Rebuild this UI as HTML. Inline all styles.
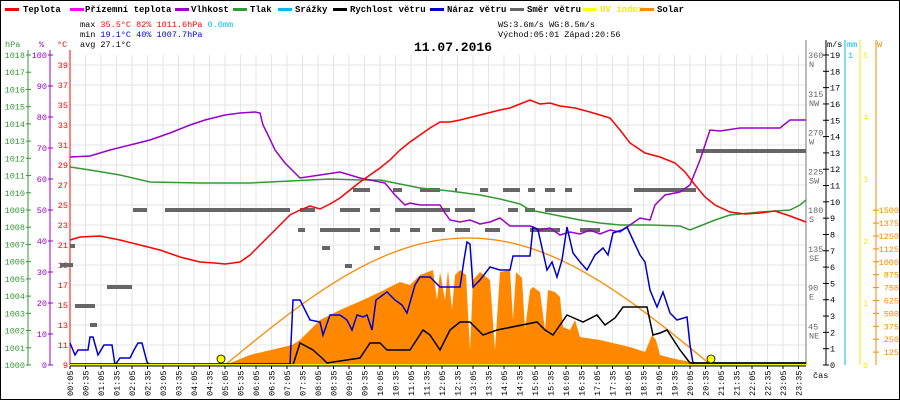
<!DOCTYPE html>
<html><head><meta charset="utf-8"><style>
body{margin:0;background:#fff}
svg{display:block;font-family:"Liberation Mono",monospace}
</style></head><body>
<svg width="900" height="400" viewBox="0 0 900 400" xmlns="http://www.w3.org/2000/svg">
<rect x="0.5" y="0.5" width="899" height="399" fill="#fff" stroke="#000"/>
<!-- legend -->
<g font-size="9" font-weight="bold" fill="#000">
<rect x="5" y="8" width="14" height="3" fill="#f00"/><text x="23" y="12">Teplota</text>
<rect x="70" y="8" width="14" height="3" fill="#f0f"/><text x="85" y="12">Přízemní teplota</text>
<rect x="175" y="8" width="14" height="3" fill="#90c"/><text x="191" y="12">Vlhkost</text>
<rect x="233" y="8" width="14" height="3" fill="#393"/><text x="250" y="12">Tlak</text>
<rect x="278" y="8" width="14" height="3" fill="#0bf"/><text x="295" y="12">Srážky</text>
<rect x="333" y="8" width="14" height="3" fill="#000"/><text x="350" y="12">Rychlost větru</text>
<rect x="430" y="8" width="14" height="3" fill="#00c"/><text x="447" y="12">Náraz větru</text>
<rect x="510" y="8" width="14" height="3" fill="#666"/><text x="527" y="12">Směr větru</text>
<rect x="583" y="8" width="14" height="3" fill="#ff0"/><text x="600" y="12" fill="#ee0">UV index</text>
<rect x="640" y="8" width="14" height="3" fill="#f80"/><text x="657" y="12">Solar</text>
</g>
<g font-size="8.5">
<text x="80" y="27">max <tspan fill="#f00">35.5°C  82%  1011.6hPa</tspan>   <tspan fill="#0bf">0.0mm</tspan></text>
<text x="80" y="37">min <tspan fill="#00c">19.1°C  40%  1007.7hPa</tspan></text>
<text x="80" y="47">avg 27.1°C</text>
<text x="498" y="27">WS:3.6m/s      WG:8.5m/s</text>
<text x="498" y="37">Východ:05:01  Západ:20:56</text>
</g>
<text x="414" y="51" font-size="13" font-weight="bold">11.07.2016</text>
<!-- grid -->
<g stroke="#e4e4e4" stroke-width="1" id="grid"></g>
<!-- axes -->
<line x1="28" y1="50" x2="28" y2="365" stroke="#393"/>
<line x1="50" y1="50" x2="50" y2="365" stroke="#90c"/>
<line x1="70" y1="50" x2="70" y2="365" stroke="#f00"/>
<line x1="806" y1="40" x2="806" y2="365" stroke="#777"/>
<line x1="826" y1="40" x2="826" y2="365" stroke="#000"/>
<line x1="845" y1="40" x2="845" y2="365" stroke="#0bf"/>
<line x1="860" y1="40" x2="860" y2="365" stroke="#ee0"/>
<line x1="876" y1="40" x2="876" y2="365" stroke="#f80"/>
<g font-size="8.5">
<text x="5" y="47" fill="#393">hPa</text><text x="39" y="47" fill="#90c">%</text><text x="57" y="47" fill="#f00">°C</text>
<text x="827" y="47">m/s</text><text x="847" y="47" fill="#0bf">mm</text><text x="877" y="47" fill="#f80">W</text>
</g>
<g id="ticks" font-size="8.5"></g>
<!-- solar area -->
<polygon fill="#f80" points="225,365 250,355 292,345 300,340 320,320 340,310 363,300 380,292 400,282 410,285 420,275 433,270 437,300 440,272 445,300 448,270 452,310 455,275 460,270 466,275 470,350 473,280 480,272 490,280 495,350 500,272 510,270 513,320 516,272 522,278 525,330 530,290 533,287 540,292 545,330 548,290 555,292 560,297 563,327 570,330 575,320 580,337 600,340 630,347 645,352 648,345 652,335 656,340 660,355 667,357 680,360 693,362 700,365"/>
<!-- solar theoretical -->
<path id="solc" fill="none" stroke="#f80" stroke-width="1.3"/>
<!-- direction blocks -->
<g fill="#666" id="dir"></g>
<!-- pressure -->
<polyline fill="none" stroke="#393" stroke-width="1.5" points="70,167 90,170 120,175 150,182 200,183 250,183 290,181 330,179 360,180 380,180 400,184 420,188 450,191 480,195 500,199 520,204 530,210 560,216 580,220 600,223 620,225 650,225 680,226 690,230 700,226 715,220 730,215 760,212 790,210 800,205 806,200"/>
<!-- humidity -->
<polyline fill="none" stroke="#90c" stroke-width="1.5" points="70,157 90,156 110,150 130,145 150,140 170,133 190,125 205,120 225,115 240,113 255,112 260,113 263,125 268,135 275,150 285,163 300,178 320,175 340,172 360,178 370,180 385,183 395,195 405,205 410,203 420,205 440,205 445,213 450,220 460,222 470,220 480,224 490,222 500,218 510,226 530,226 540,230 550,228 560,235 570,232 580,234 590,230 600,234 610,230 620,232 630,225 640,218 650,220 655,205 665,195 680,192 690,185 700,160 710,130 720,131 740,128 760,128 780,128 790,120 806,120"/>
<!-- temperature -->
<polyline fill="none" stroke="#f00" stroke-width="1.5" points="70,240 80,237 100,236 120,240 140,245 160,250 180,257 200,262 215,263 225,264 240,262 250,255 260,245 270,235 280,225 290,215 300,210 310,206 320,209 330,204 340,198 350,190 360,182 370,175 380,168 390,160 400,150 410,142 420,135 430,128 440,122 450,122 460,120 480,115 500,110 510,108 520,104 530,100 540,104 550,103 560,106 575,108 590,112 600,115 610,118 620,130 630,143 645,153 660,157 675,163 685,172 695,185 705,197 715,205 730,212 745,214 760,213 775,211 790,216 806,222"/>
<!-- gust -->
<polyline fill="none" stroke="#00c" stroke-width="1.5" points="70,343 75,355 78,350 88,350 90,337 93,337 98,355 104,345 112,345 115,365 120,358 130,358 134,350 138,343 142,343 147,362 150,365 290,365 293,300 300,300 310,320 320,322 323,335 330,315 340,315 347,320 352,330 357,315 363,317 367,315 372,330 376,300 387,292 395,300 402,305 407,313 415,285 420,277 430,277 440,287 450,287 460,287 464,260 467,242 470,244 473,287 480,280 490,267 500,270 510,270 513,256 530,256 533,227 538,230 547,270 552,262 557,277 562,260 567,227 573,253 580,262 587,270 595,255 603,248 608,255 613,233 622,230 627,227 633,240 640,255 645,262 650,290 657,307 663,292 670,313 677,320 687,317 690,345 693,363 806,363"/>
<!-- wind speed -->
<polyline fill="none" stroke="#000" stroke-width="1.5" points="70,364 290,364 293,365 300,343 313,350 322,358 327,363 360,358 370,343 380,343 387,350 410,350 423,330 430,335 440,350 450,330 460,322 470,322 483,335 497,330 537,322 545,330 553,335 567,315 583,322 597,315 605,325 615,318 623,307 647,307 653,335 660,333 667,330 680,350 690,363 806,363"/>
<!-- UV -->
<line x1="70" y1="365" x2="806" y2="365" stroke="#ee0" stroke-width="2"/>
<circle cx="221" cy="359" r="4" fill="#ff0" stroke="#000" stroke-width="0.8"/>
<circle cx="711" cy="359" r="4" fill="#ff0" stroke="#000" stroke-width="0.8"/>
<line x1="70" y1="366" x2="806" y2="366" stroke="#000"/>
<g id="xl" font-size="8.5"></g>
<text x="813" y="378" font-size="8.5">čas</text>
</svg>
<script>
var ns="http://www.w3.org/2000/svg";
function el(p,t,a,txt){var e=document.createElementNS(ns,t);for(var k in a)e.setAttribute(k,a[k]);if(txt!=null)e.textContent=txt;p.appendChild(e);return e;}
var g=document.getElementById('grid'),tk=document.getElementById('ticks'),xl=document.getElementById('xl');
for(var i=0;i<48;i++){var x=70+i*15.5;el(g,'line',{x1:x,y1:55,x2:x,y2:365});
 el(xl,'text',{transform:'translate('+(x+3)+',396) rotate(-90)'},(function(){var m=5+30*i,h=Math.floor(m/60),mm=m%60;return (h<10?'0':'')+h+':'+(mm<10?'0':'')+mm;})());
 el(xl,'line',{x1:x,y1:366,x2:x,y2:369,stroke:'#000'});}
for(var t=9;t<=39;t+=2){var y=365-(t-9)*10;el(g,'line',{x1:70,y1:y,x2:806,y2:y});
 el(tk,'text',{x:68,y:y+3,'text-anchor':'end',fill:'#f00'},t);}
for(var p=0;p<=18;p++){var y=365-p*310/18;el(tk,'text',{x:25,y:y+3,'text-anchor':'end',fill:'#393'},1000+p);el(tk,'line',{x1:26,y1:y,x2:31,y2:y,stroke:'#393'});}
for(var p=0;p<=10;p++){var y=365-p*31;el(tk,'text',{x:47,y:y+3,'text-anchor':'end',fill:'#90c'},p*10);el(tk,'line',{x1:48,y1:y,x2:53,y2:y,stroke:'#90c'});}
var dn=['','NE','E','SE','S','SW','W','NW','N'];
for(var p=1;p<=8;p++){var y=365-p*310/8;el(tk,'text',{x:808,y:y+3,fill:'#666'},p*45);el(tk,'text',{x:809,y:y+12,fill:'#666'},dn[p]);}
for(var p=0;p<=19;p++){var y=365-p*310/19;el(tk,'text',{x:830,y:y+3},p);el(tk,'line',{x1:823,y1:y,x2:829,y2:y,stroke:'#000'});}
el(tk,'text',{x:848,y:58,fill:'#0bf'},'1');
for(var p=0;p<=5;p++){var y=365-p*62;el(tk,'text',{x:863,y:y+3,fill:'#ee0'},p);}
for(var p=1;p<=12;p++){var y=365-p*12.9;el(tk,'text',{x:899,y:y+3,'text-anchor':'end',fill:'#f80'},p*125);el(tk,'line',{x1:873,y1:y,x2:879,y2:y,stroke:'#f80'});}
// solar curve
var d='';for(var x=225;x<=711;x+=4){var f=Math.sin(Math.PI*(x-225)/486);d+=(x==225?'M':'L')+x+','+(365-127*f).toFixed(1);}
document.getElementById('solc').setAttribute('d',d);
// direction blocks [x1,x2,y]
var dir=document.getElementById('dir'),bl=[[75,95,306],[107,132,287],[133,147,210],[165,290,210],[300,315,210],[340,360,210],[370,380,210],[395,420,210],[440,450,210],[455,475,210],[90,97,325],[70,75,246],[60,73,265],[345,352,266],[322,330,248],[298,305,230],[320,360,230],[370,380,230],[390,400,230],[410,420,230],[432,445,230],[455,470,230],[485,500,230],[530,560,230],[580,600,230],[353,370,190],[393,402,190],[420,440,190],[455,457,190],[480,488,190],[503,520,190],[528,535,190],[545,555,190],[565,572,190],[634,696,190],[420,447,210],[508,518,210],[525,535,210],[545,632,210],[696,806,151],[374,380,248]];
bl.forEach(function(b){el(dir,'rect',{x:b[0],y:b[2]-2,width:b[1]-b[0],height:4});});
</script>
</body></html>
